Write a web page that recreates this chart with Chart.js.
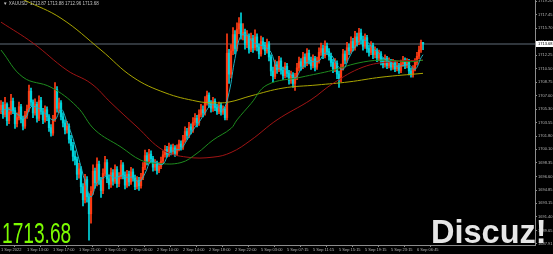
<!DOCTYPE html>
<html>
<head>
<meta charset="utf-8">
<script src="https://cdn.jsdelivr.net/npm/chart.js@4"></script>
<style>
    html, body { margin: 0; padding: 0; background: #000; overflow: hidden; }
    #js-wrap { width: 553px; height: 254px; }
</style>
</head>
<body>
<div id="js-wrap"><canvas id="js-chart"></canvas></div>
<script>
// XAUUSD candles, 1 Sep 2022 - 6 Sep 2022
const opens = [
    1705.2,1705.8,1704.6,1705.9,1703.8,1704.9,1706.3,1705.1,1703.4,1704.2,
    1705.6,1704.0,1703.1,1704.5,1705.3,1707.6,1706.2,1704.8,1705.9,1704.1,
    1706.4,1705.0,1703.9,1705.2,1704.3,1702.9,1702.2,1704.0,1707.8,1705.4,
    1706.1,1704.3,1703.5,1702.6,1703.1,1701.4,1700.6,1699.2,1698.8,1696.9,
    1697.6,1695.3,1693.6,1696.2,1694.0,1691.8,1694.7,1697.3,1695.8,1698.2,
    1696.1,1694.8,1697.0,1698.4,1696.3,1695.6,1697.1,1696.0,1697.5,1695.7,
    1696.6,1698.1,1696.8,1695.5,1696.9,1695.9,1697.2,1696.4,1695.3,1696.1,
    1695.4,1696.5,1697.8,1699.3,1698.6,1699.5,1698.9,1697.8,1698.3,1697.4,
    1697.9,1698.6,1699.4,1700.1,1699.5,1700.4,1699.8,1700.3,1699.6,1700.2,
    1700.8,1700.4,1701.3,1702.4,1701.9,1703.0,1702.6,1703.6,1704.1,1703.5,
    1704.6,1705.2,1704.8,1706.2,1707.1,1706.0,1705.4,1706.3,1705.5,1705.0,
    1705.8,1704.9,1705.3,1704.2,1712.5,1709.8,1712.8,1714.9,1713.1,1715.6,
    1716.3,1714.8,1715.2,1713.6,1714.7,1713.0,1714.4,1713.2,1714.6,1713.3,
    1712.4,1714.0,1713.5,1712.8,1713.7,1712.0,1710.2,1709.5,1711.0,1710.4,
    1711.5,1710.3,1709.6,1710.8,1709.9,1709.0,1709.7,1708.6,1709.4,1710.6,
    1711.4,1710.8,1712.0,1711.2,1712.5,1711.6,1710.9,1711.8,1710.7,1711.5,
    1712.6,1713.1,1712.2,1713.4,1712.7,1712.1,1711.3,1710.5,1711.2,1709.8,
    1709.2,1710.6,1712.4,1711.6,1713.2,1712.8,1714.0,1713.2,1714.6,1713.9,
    1715.1,1714.2,1713.4,1714.5,1713.1,1712.6,1713.5,1712.3,1712.8,1711.9,
    1712.4,1711.5,1711.0,1711.8,1710.9,1711.4,1710.7,1711.2,1710.5,1710.9,
    1710.3,1711.1,1711.6,1710.9,1711.4,1710.2,1709.8,1710.5,1711.3,1712.1,
    1712.9,1713.87
];
const highs = [
    1706.4,1706.2,1706.8,1706.1,1705.5,1707.2,1706.7,1705.5,1704.8,1706.2,
    1705.9,1704.4,1705.0,1705.8,1708.4,1708.0,1706.5,1706.6,1706.2,1707.0,
    1706.8,1705.4,1705.7,1705.6,1704.6,1703.3,1704.5,1708.7,1708.2,1706.7,
    1706.4,1704.8,1703.9,1703.7,1703.4,1701.9,1701.0,1699.9,1699.1,1698.3,
    1697.9,1695.7,1696.9,1696.6,1694.4,1695.3,1698.1,1697.7,1699.0,1698.6,
    1696.5,1697.6,1699.2,1698.8,1696.8,1697.7,1697.5,1698.1,1697.9,1697.1,
    1698.7,1698.4,1697.2,1697.4,1697.3,1697.8,1697.6,1696.8,1696.6,1696.5,
    1697.0,1698.4,1700.0,1699.7,1700.1,1699.9,1699.2,1698.8,1698.6,1698.4,
    1699.1,1699.9,1700.6,1700.5,1700.9,1700.7,1700.8,1700.6,1700.7,1701.3,
    1701.2,1701.9,1703.0,1702.8,1703.6,1703.4,1704.2,1704.7,1704.5,1705.2,
    1705.9,1705.7,1706.9,1707.6,1707.4,1706.4,1706.8,1706.6,1705.9,1706.2,
    1706.1,1705.7,1705.6,1715.0,1713.0,1713.6,1715.8,1715.4,1716.4,1717.1,
    1717.7,1716.3,1715.6,1715.4,1715.0,1715.1,1714.8,1715.5,1715.0,1713.7,
    1714.7,1714.5,1713.9,1714.3,1714.0,1712.3,1710.7,1711.6,1711.4,1712.1,
    1711.9,1710.7,1711.3,1711.2,1710.3,1710.2,1710.0,1709.9,1711.2,1712.0,
    1711.8,1712.6,1712.4,1713.1,1712.9,1712.0,1712.3,1712.1,1712.0,1713.2,
    1713.8,1713.5,1714.1,1713.8,1713.1,1712.5,1711.7,1711.8,1711.5,1710.2,
    1711.1,1713.0,1712.8,1713.9,1713.7,1714.6,1714.4,1715.3,1715.1,1715.7,
    1715.6,1714.7,1715.0,1714.8,1713.5,1714.0,1713.8,1713.3,1713.1,1712.9,
    1712.7,1711.9,1712.3,1712.1,1711.9,1711.7,1711.7,1711.5,1711.4,1711.2,
    1711.6,1712.1,1711.9,1711.8,1711.7,1710.6,1710.9,1711.8,1712.6,1713.4,
    1714.2,1713.88
];
const lows = [
    1704.7,1704.1,1704.3,1703.2,1703.4,1704.6,1704.7,1702.8,1703.0,1703.9,
    1703.5,1702.6,1702.8,1704.1,1705.0,1705.7,1704.2,1704.5,1703.6,1703.8,
    1704.6,1703.4,1703.6,1703.8,1702.4,1701.8,1701.9,1703.7,1704.9,1704.8,
    1703.9,1703.0,1702.1,1702.2,1700.9,1700.0,1698.6,1698.1,1696.2,1696.4,
    1694.5,1692.8,1693.2,1693.3,1688.4,1690.6,1694.3,1695.1,1695.4,1695.6,
    1693.9,1694.4,1696.7,1695.8,1695.0,1695.2,1695.5,1695.7,1695.2,1695.3,
    1696.3,1696.3,1695.0,1695.2,1695.4,1695.6,1696.0,1694.9,1695.0,1694.8,
    1695.1,1696.2,1697.5,1698.1,1698.3,1698.4,1697.3,1697.4,1696.9,1697.1,
    1697.6,1698.3,1699.1,1699.1,1699.2,1699.4,1699.5,1699.2,1699.3,1699.9,
    1700.0,1700.1,1701.0,1701.4,1701.6,1702.1,1702.3,1703.2,1703.0,1703.2,
    1704.3,1704.3,1704.5,1705.8,1705.5,1704.9,1705.0,1705.1,1704.6,1704.7,
    1704.5,1704.6,1703.9,1703.9,1708.6,1709.3,1712.3,1712.4,1712.8,1715.0,
    1714.3,1714.2,1713.0,1713.2,1712.5,1712.7,1712.6,1712.9,1712.8,1711.8,
    1712.1,1713.0,1712.3,1712.5,1711.5,1709.6,1708.8,1709.2,1709.9,1710.1,
    1709.8,1709.1,1709.3,1709.4,1708.5,1708.6,1708.1,1707.7,1709.1,1710.2,
    1710.3,1710.5,1710.7,1710.9,1711.1,1710.4,1710.6,1710.2,1710.4,1711.2,
    1712.2,1711.8,1711.9,1712.3,1711.6,1710.8,1710.0,1710.1,1709.2,1708.1,
    1708.8,1710.3,1711.1,1711.3,1712.3,1712.5,1712.8,1712.9,1713.4,1713.6,
    1713.7,1712.9,1713.1,1712.6,1712.1,1712.3,1711.8,1711.9,1711.4,1711.5,
    1711.0,1710.6,1710.7,1710.5,1710.6,1710.3,1710.4,1710.1,1710.2,1709.9,
    1710.0,1710.8,1710.5,1710.6,1709.7,1709.4,1709.4,1710.2,1711.0,1711.8,
    1712.6,1712.96
];
const closes = [
    1705.8,1704.6,1705.9,1703.8,1704.9,1706.3,1705.1,1703.4,1704.2,1705.6,
    1704.0,1703.1,1704.5,1705.3,1707.6,1706.2,1704.8,1705.9,1704.1,1706.4,
    1705.0,1703.9,1705.2,1704.3,1702.9,1702.2,1704.0,1707.8,1705.4,1706.1,
    1704.3,1703.5,1702.6,1703.1,1701.4,1700.6,1699.2,1698.8,1696.9,1697.6,
    1695.3,1693.6,1696.2,1694.0,1691.8,1694.7,1697.3,1695.8,1698.2,1696.1,
    1694.8,1697.0,1698.4,1696.3,1695.6,1697.1,1696.0,1697.5,1695.7,1696.6,
    1698.1,1696.8,1695.5,1696.9,1695.9,1697.2,1696.4,1695.3,1696.1,1695.4,
    1696.5,1697.8,1699.3,1698.6,1699.5,1698.9,1697.8,1698.3,1697.4,1697.9,
    1698.6,1699.4,1700.1,1699.5,1700.4,1699.8,1700.3,1699.6,1700.2,1700.8,
    1700.4,1701.3,1702.4,1701.9,1703.0,1702.6,1703.6,1704.1,1703.5,1704.6,
    1705.2,1704.8,1706.2,1707.1,1706.0,1705.4,1706.3,1705.5,1705.0,1705.8,
    1704.9,1705.3,1704.2,1712.5,1709.8,1712.8,1714.9,1713.1,1715.6,1716.3,
    1714.8,1715.2,1713.6,1714.7,1713.0,1714.4,1713.2,1714.6,1713.3,1712.4,
    1714.0,1713.5,1712.8,1713.7,1712.0,1710.2,1709.5,1711.0,1710.4,1711.5,
    1710.3,1709.6,1710.8,1709.9,1709.0,1709.7,1708.6,1709.4,1710.6,1711.4,
    1710.8,1712.0,1711.2,1712.5,1711.6,1710.9,1711.8,1710.7,1711.5,1712.6,
    1713.1,1712.2,1713.4,1712.7,1712.1,1711.3,1710.5,1711.2,1709.8,1709.2,
    1710.6,1712.4,1711.6,1713.2,1712.8,1714.0,1713.2,1714.6,1713.9,1715.1,
    1714.2,1713.4,1714.5,1713.1,1712.6,1713.5,1712.3,1712.8,1711.9,1712.4,
    1711.5,1711.0,1711.8,1710.9,1711.4,1710.7,1711.2,1710.5,1710.9,1710.3,
    1711.1,1711.6,1710.9,1711.4,1710.2,1709.8,1710.5,1711.3,1712.1,1712.9,
    1713.9,1713.68
];

// moving averages, sampled points (bar index -> price)
const fastMaIdx = [0,3,6,9,12,15,18,21,24,27,30,33,36,39,42,45,48,51,54,57,60,63,66,69,72,75,78,81,84,87,90,93,96,99,102,105,108,111,114,117,120,123,126,129,132,135,138,141,144,147,150,153,156,159,162,165,168,171,174,177,180,183,186,189,192,195,198,201,204,207,210,211];
const fastMa = [1705.0,1705.3,1705.0,1704.5,1704.1,1705.6,1705.5,1705.0,1704.2,1703.9,1705.3,1703.6,1701.5,1698.8,1696.0,1694.0,1695.8,1696.4,1696.8,1696.4,1696.7,1696.5,1696.5,1695.9,1697.0,1698.6,1698.3,1698.2,1699.6,1700.0,1700.2,1701.3,1702.6,1703.6,1704.8,1705.8,1705.7,1705.2,1707.4,1711.8,1714.8,1714.8,1713.9,1713.6,1713.3,1712.6,1710.6,1710.6,1710.0,1709.3,1710.4,1711.3,1711.4,1711.5,1712.5,1712.3,1711.0,1710.4,1711.9,1713.3,1714.2,1714.0,1713.1,1712.5,1711.7,1711.3,1710.8,1710.9,1711.0,1710.4,1711.9,1712.3];

const greenMaIdx = [0, 11, 25, 38, 47, 60, 70, 78, 90, 98, 106, 115, 118, 125, 133, 150, 166, 178, 190, 205, 211];
const greenMa = [1712.9, 1709.4, 1708.1, 1705.6, 1702.6, 1700.4, 1698.7, 1698.3, 1698.4, 1699.6, 1701.3, 1702.8, 1703.9, 1706.0, 1708.4, 1709.4, 1710.3, 1711.2, 1711.6, 1711.4, 1711.6];

const redMaIdx = [0, 16, 33, 45, 55, 68, 81, 93, 106, 115, 125, 138, 155, 166, 181, 195, 211];
const redMa = [1716.5, 1713.8, 1710.3, 1708.6, 1706.1, 1703.0, 1700.0, 1699.1, 1699.1, 1699.7, 1701.3, 1703.9, 1706.5, 1708.6, 1710.7, 1711.4, 1711.6];

const yellowMaIdx = [0, 12, 30, 50, 66, 82, 98, 106, 114, 125, 141, 158, 174, 190, 211];
const yellowMa = [1720.8, 1719.3, 1717.0, 1712.9, 1709.4, 1707.4, 1706.3, 1706.1, 1706.2, 1707.0, 1708.0, 1708.4, 1708.8, 1709.4, 1709.9];

const priceTicks = [1687.91, 1689.65, 1691.40, 1693.15, 1694.85, 1696.60, 1698.35, 1700.10, 1701.80, 1703.55, 1705.30, 1707.00, 1708.75, 1710.50, 1712.25, 1714.00, 1715.70, 1717.45, 1719.20];
const timeLabels = ['1 Sep 2022', '1 Sep 13:00', '1 Sep 17:00', '1 Sep 21:00', '2 Sep 01:00', '2 Sep 06:00', '2 Sep 10:00', '2 Sep 14:00', '2 Sep 18:00', '2 Sep 22:00', '5 Sep 03:00', '5 Sep 07:15', '5 Sep 11:15', '5 Sep 15:15', '5 Sep 19:15', '5 Sep 23:15', '6 Sep 06:45'];
const barsPerLabel = 13;

const symbolName = 'XAUUSD';
const lastPrice = 1713.68;

const upColor = '#ff3c14';
const downColor = '#00d4dc';
const axisColor = '#8c8c8c';
const textColor = '#b4b4b4';

const candleColors = closes.map((c, i) => c >= opens[i] ? upColor : downColor);
const toPoints = (idx, vals) => idx.map((x, k) => ({ x: x, y: vals[k] }));

const maLine = (label, idx, vals, color) => ({
    type: 'line',
    label: label,
    data: toPoints(idx, vals),
    borderColor: color,
    borderWidth: 1,
    pointRadius: 0,
    tension: 0.4,
    order: 1
});

// keep the plot area flush with the canvas edges
const noPadding = scale => {
    scale.paddingTop = 0;
    scale.paddingBottom = 0;
    scale.paddingLeft = 0;
    scale.paddingRight = 0;
};

const overlay = {
    id: 'overlay',
    beforeDatasetsDraw(chart) {
        const { ctx, chartArea, scales } = chart;
        const y = scales.y.getPixelForValue(lastPrice);
        ctx.save();
        ctx.strokeStyle = '#30363c';
        ctx.lineWidth = 2;
        ctx.beginPath();
        ctx.moveTo(chartArea.left, y);
        ctx.lineTo(chartArea.right, y);
        ctx.stroke();
        ctx.restore();
    },
    afterDraw(chart) {
        const { ctx, chartArea, scales } = chart;
        const y = scales.y.getPixelForValue(lastPrice);
        ctx.save();

        // last price box on the price scale
        ctx.fillStyle = '#ffffff';
        ctx.fillRect(chartArea.right + 1, y - 3, 17, 6);
        ctx.fillStyle = '#000';
        ctx.font = '4px "Liberation Sans"';
        ctx.textBaseline = 'middle';
        ctx.fillText(lastPrice.toFixed(2), chartArea.right + 3, y + 0.3);

        // symbol line at top left
        ctx.fillStyle = '#c0c0c0';
        ctx.font = '4.5px "Liberation Sans"';
        ctx.fillText('\u25BC ' + symbolName + '  ' + [opens[opens.length - 1], highs[highs.length - 1], lows[lows.length - 1], lastPrice].map(v => v.toFixed(2)).join(' '), 3, 4);

        // big price label
        ctx.save();
        ctx.translate(2, 243);
        ctx.scale(0.66, 1);
        ctx.fillStyle = '#7cfc00';
        ctx.font = '29px "Liberation Sans"';
        ctx.textBaseline = 'alphabetic';
        ctx.fillText(lastPrice.toFixed(2), 0, 0);
        ctx.restore();

        // watermark
        ctx.fillStyle = '#e6e6e6';
        ctx.font = 'bold 32.5px "Liberation Sans"';
        ctx.textBaseline = 'alphabetic';
        ctx.fillText('Discuz!', 431, 243);
        ctx.restore();
    }
};

const chartElement = document.getElementById('js-chart');

const chartConfig = {
    type: 'bar',
    data: {
        datasets: [
            maLine('MA fast', fastMaIdx, fastMa, '#1ab4c4'),
            maLine('MA green', greenMaIdx, greenMa, '#1e8c1e'),
            maLine('MA red', redMaIdx, redMa, '#a01414'),
            maLine('MA yellow', yellowMaIdx, yellowMa, '#aaa600'),
            {
                type: 'bar',
                label: 'bodies',
                data: closes.map((c, i) => ({ x: i, y: [opens[i], c] })),
                backgroundColor: candleColors,
                barThickness: 1.6,
                minBarLength: 1,
                grouped: false,
                order: 2
            },
            {
                type: 'bar',
                label: 'wicks',
                data: closes.map((c, i) => ({ x: i, y: [lows[i], highs[i]] })),
                backgroundColor: candleColors,
                barThickness: 1,
                grouped: false,
                order: 3
            }
        ]
    },
    options: {
        responsive: true,
        maintainAspectRatio: false,
        animation: false,
        events: [],
        layout: { padding: 0 },
        plugins: {
            legend: { display: false },
            tooltip: { enabled: false }
        },
        scales: {
            x: {
                type: 'linear',
                position: 'bottom',
                min: -0.5,
                max: 267,
                offset: false,
                grid: { drawOnChartArea: false, drawTicks: true, tickLength: 2, color: axisColor },
                border: { color: axisColor },
                ticks: {
                    align: 'start',
                    autoSkip: false,
                    maxRotation: 0,
                    padding: 0,
                    color: textColor,
                    font: { size: 4, family: 'Liberation Sans' },
                    callback: (v, i) => timeLabels[i]
                },
                afterBuildTicks: scale => {
                    scale.ticks = timeLabels.map((t, k) => ({ value: k * barsPerLabel }));
                },
                afterFit: scale => { scale.height = 9; noPadding(scale); }
            },
            y: {
                type: 'linear',
                position: 'right',
                min: 1687.78,
                max: 1719.35,
                grid: { drawOnChartArea: false, drawTicks: true, tickLength: 2, color: axisColor },
                border: { color: axisColor },
                ticks: {
                    autoSkip: false,
                    padding: 1,
                    color: textColor,
                    font: { size: 4, family: 'Liberation Sans' },
                    callback: v => v.toFixed(2)
                },
                afterBuildTicks: scale => {
                    scale.ticks = priceTicks.map(v => ({ value: v }));
                },
                afterFit: scale => { scale.width = 18; noPadding(scale); }
            }
        }
    },
    plugins: [overlay]
};

const chart = new Chart(chartElement, chartConfig);
</script>
</body>
</html>
